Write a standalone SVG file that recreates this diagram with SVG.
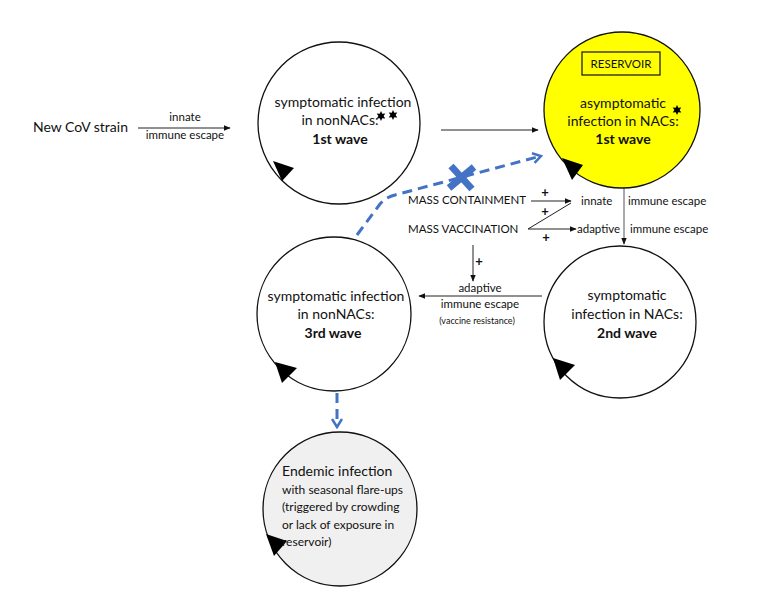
<svg xmlns="http://www.w3.org/2000/svg" width="766" height="600" viewBox="0 0 766 600">
<defs>
<style>
text{font-family:Lato,"Liberation Sans",sans-serif;fill:#111}
.c{fill:#fff;stroke:#111;stroke-width:1.3}
.n{font-size:14px;text-anchor:middle}
.b{font-size:14px;text-anchor:middle;font-weight:bold}
.s{font-size:11.5px}
.p{font-size:13px;font-weight:bold;text-anchor:middle}
.ln{stroke:#222;stroke-width:1;fill:none}
.blue{stroke:#4472C4;stroke-width:3;fill:none;stroke-dasharray:10 6}
.tri{fill:#000}
</style>
<marker id="ah" viewBox="0 0 10 10" refX="9" refY="5" markerWidth="7" markerHeight="7" orient="auto" markerUnits="userSpaceOnUse"><path d="M0,1 L10,5 L0,9 z" fill="#111"/></marker>
<marker id="bh" viewBox="0 0 12 12" refX="10" refY="6" markerWidth="12" markerHeight="12" orient="auto" markerUnits="userSpaceOnUse"><path d="M2,1 L10,6 L2,11" fill="none" stroke="#4472C4" stroke-width="2.5"/></marker>
<path id="star" d="M0,-5 L1.3,-2.2 L4.3,-2.5 L2.6,0 L4.3,2.5 L1.3,2.2 L0,5 L-1.3,2.2 L-4.3,2.5 L-2.6,0 L-4.3,-2.5 L-1.3,-2.2 z" fill="#000"/>
</defs>
<rect width="766" height="600" fill="#fff"/>

<g id="connectors">
<line class="ln" x1="138" y1="128" x2="230" y2="128" marker-end="url(#ah)"/>
<line class="ln" x1="441" y1="130" x2="538" y2="130" marker-end="url(#ah)"/>
<line x1="624" y1="188" x2="624" y2="244" stroke="#555" stroke-width="1" marker-end="url(#ah)"/>
<line class="ln" x1="531" y1="201" x2="571" y2="201" marker-end="url(#ah)"/>
<polyline class="ln" points="571,203 528,229 576,229" marker-end="url(#ah)"/>
<line class="ln" x1="473" y1="245" x2="473" y2="281" marker-end="url(#ah)"/>
<line class="ln" x1="542" y1="296" x2="419" y2="296" marker-end="url(#ah)"/>
<path class="blue" d="M357,235 L380,204 Q386,197 395,195 L541,156" marker-end="url(#bh)"/>
<line class="blue" x1="337" y1="393" x2="337" y2="427" marker-end="url(#bh)"/>
<g stroke="#4472C4" stroke-width="7" stroke-linecap="butt">
<line x1="451" y1="166" x2="472" y2="189"/>
<line x1="449" y1="188" x2="474" y2="167"/>
</g>
</g>

<g id="labels">
<text x="33" y="132" style="font-size:14px">New CoV strain</text>
<text x="185" y="121" class="s" text-anchor="middle">innate</text>
<text x="185" y="139" class="s" text-anchor="middle">immune escape</text>
<text x="408" y="204" class="s">MASS CONTAINMENT</text>
<text x="408" y="233" class="s">MASS VACCINATION</text>
<text x="545" y="197" class="p">+</text>
<text x="545" y="216" class="p">+</text>
<text x="546" y="242" class="p">+</text>
<text x="479" y="266" class="p">+</text>
<text x="581" y="205" class="s">innate</text>
<text x="628" y="205" class="s">immune escape</text>
<text x="577" y="233" class="s">adaptive</text>
<text x="630" y="233" class="s">immune escape</text>
<text x="480" y="292" class="s" text-anchor="middle">adaptive</text>
<text x="480" y="308" class="s" text-anchor="middle">immune escape</text>
<text x="477" y="324" style="font-size:9px" text-anchor="middle">(vaccine resistance)</text>
</g>

<g id="wave1-nonNACs">
<circle class="c" cx="339" cy="123" r="81"/>
<polygon class="tri" points="273,161 294,168 282,181"/>
<text x="343" y="107" class="n">symptomatic infection</text>
<text x="340" y="125" class="n">in nonNACs:</text>
<text x="340" y="144" class="b">1st wave</text>
<use href="#star" x="381" y="116"/>
<use href="#star" x="393" y="115"/>
</g>

<g id="wave1-NACs">
<circle cx="622" cy="110" r="78" fill="#ffff00" stroke="#111" stroke-width="1.3"/>
<polygon class="tri" points="562,158 583,165 572,180"/>
<rect x="582" y="52" width="78" height="23" fill="none" stroke="#111" stroke-width="1.2"/>
<text x="621" y="68" style="font-size:11.5px" text-anchor="middle">RESERVOIR</text>
<text x="623" y="108" class="n">asymptomatic</text>
<text x="623" y="126" class="n">infection in NACs:</text>
<text x="623" y="144" class="b">1st wave</text>
<use href="#star" x="677" y="110"/>
</g>

<g id="wave2-NACs">
<circle class="c" cx="620" cy="322" r="76"/>
<polygon class="tri" points="553,358 575,365 560,380"/>
<text x="627" y="300" class="n">symptomatic</text>
<text x="627" y="319" class="n">infection in NACs:</text>
<text x="627" y="338" class="b">2nd wave</text>
</g>

<g id="wave3-nonNACs">
<circle class="c" cx="334" cy="314" r="77"/>
<polygon class="tri" points="275,362 297,368 282,383"/>
<text x="336" y="301" class="n">symptomatic infection</text>
<text x="336" y="319" class="n">in nonNACs:</text>
<text x="333" y="338" class="b">3rd wave</text>
</g>

<g id="endemic">
<circle cx="340" cy="509" r="77" fill="#f0f0f0" stroke="#111" stroke-width="1.3"/>
<polygon class="tri" points="266,534 287,541 274,556"/>
<text x="282" y="476" style="font-size:14px">Endemic infection</text>
<text x="282" y="494" style="font-size:12px">with seasonal flare-ups</text>
<text x="282" y="511" style="font-size:12px">(triggered by crowding</text>
<text x="282" y="529" style="font-size:12px">or lack of exposure in</text>
<text x="282" y="546" style="font-size:12px">reservoir)</text>
</g>
</svg>
